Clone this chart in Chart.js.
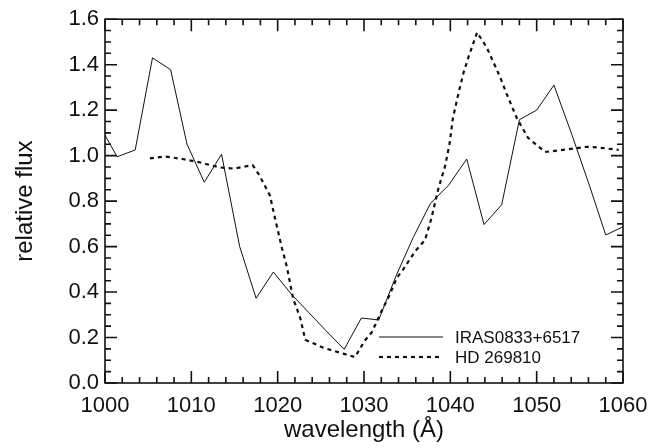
<!DOCTYPE html>
<html>
<head>
<meta charset="utf-8">
<script src="https://cdn.jsdelivr.net/npm/chart.js@4.4.1/dist/chart.umd.min.js"></script>
<style>
  html, body { margin: 0; padding: 0; background: #fff; }
  canvas { display: block; }
</style>
</head>
<body>
<canvas id="chart" width="663" height="448"></canvas>
<script>
// IRAS0833+6517 (solid)
var irasWave = [1000, 1001.4, 1003.5, 1005.5, 1007.6, 1009.5, 1011.5, 1013.5, 1015.6, 1017.5,
                1019.5, 1021.6, 1023.6, 1025.6, 1027.7, 1029.7, 1031.7, 1033.7, 1035.7, 1037.7,
                1039.8, 1041.9, 1043.9, 1045.95, 1048.0, 1050.0, 1052.0, 1054.1, 1056.1, 1058.0, 1060];
var irasFlux = [1.09, 0.995, 1.025, 1.43, 1.378, 1.05, 0.883, 1.006, 0.60, 0.373,
                0.488, 0.39, 0.31, 0.23, 0.148, 0.286, 0.277, 0.47, 0.64, 0.79,
                0.87, 0.985, 0.697, 0.784, 1.158, 1.20, 1.31, 1.09, 0.87, 0.651, 0.687];

// HD 269810 (dashed)
var hdWave = [1005.2, 1007.0, 1009.0, 1011.0, 1013.3, 1014.9, 1017.1, 1017.8, 1019.1, 1019.7,
              1020.5, 1021.05, 1021.8, 1022.6, 1023.2, 1025.3, 1027.6, 1028.96, 1030.1, 1030.9,
              1032.05, 1033.0, 1033.8, 1034.55, 1035.9, 1037.07, 1037.8, 1038.6, 1039.4, 1039.9,
              1040.3, 1040.9, 1041.5, 1042.1, 1043.1, 1044.2, 1045.75, 1046.5, 1047.7, 1049.0,
              1050.97, 1053.5, 1055.8, 1057.3, 1059.5];
var hdFlux = [0.988, 0.996, 0.985, 0.97, 0.948, 0.943, 0.958, 0.919, 0.825, 0.723,
              0.593, 0.513, 0.37, 0.288, 0.19, 0.155, 0.129, 0.114, 0.187, 0.223,
              0.317, 0.39, 0.462, 0.50, 0.578, 0.629, 0.723, 0.853, 0.955, 1.05,
              1.165, 1.267, 1.361, 1.433, 1.542, 1.477, 1.347, 1.274, 1.165, 1.078,
              1.016, 1.027, 1.039, 1.035, 1.025];

var seriesLabels = ['IRAS0833+6517', 'HD 269810'];
var xRange = [1000, 1060];
var yRange = [0, 1.6];

function toPoints(xs, ys) {
    var pts = [];
    for (var i = 0; i < xs.length; i++) pts.push({x: xs[i], y: ys[i]});
    return pts;
}

var sFont = '"Liberation Sans", Arial, Helvetica, sans-serif';
var sInk = '#111';

// box around the plot with inward ticks on all four sides, plus the inset key
var oFramePlugin = {
    id: 'frame',
    afterDatasetsDraw: function (chart) {
        var ctx = chart.ctx, a = chart.chartArea;
        var sx = chart.scales.x, sy = chart.scales.y;
        ctx.save();
        ctx.strokeStyle = sInk;
        ctx.lineWidth = 1.6;
        ctx.strokeRect(a.left, a.top, a.right - a.left, a.bottom - a.top);

        ctx.beginPath();
        for (var i = 0; i <= 30; i++) {
            var px = sx.getPixelForValue(xRange[0] + i * 2);
            var len = i % 5 == 0 ? 12 : 6;
            ctx.moveTo(px, a.bottom); ctx.lineTo(px, a.bottom - len);
            ctx.moveTo(px, a.top); ctx.lineTo(px, a.top + len);
        }
        for (var j = 0; j <= 32; j++) {
            var py = sy.getPixelForValue(j * 0.05);
            var ylen = j % 4 == 0 ? 12 : 6;
            ctx.moveTo(a.left, py); ctx.lineTo(a.left + ylen, py);
            ctx.moveTo(a.right, py); ctx.lineTo(a.right - ylen, py);
        }
        ctx.stroke();

        // key
        var ds = chart.data.datasets;
        ctx.font = '17px ' + sFont;
        ctx.fillStyle = sInk;
        ctx.textBaseline = 'middle';
        for (var k = 0; k < ds.length; k++) {
            var ky = 337 + k * 20;
            ctx.beginPath();
            ctx.lineWidth = ds[k].borderWidth;
            ctx.setLineDash(ds[k].borderDash || []);
            ctx.moveTo(379, ky);
            ctx.lineTo(443, ky);
            ctx.stroke();
            ctx.setLineDash([]);
            ctx.fillText(ds[k].label, 455, ky + 1);
        }
        ctx.restore();
    }
};

var oChart = new Chart(document.getElementById('chart'), {
    type: 'line',
    data: {
        datasets: [{
            label: seriesLabels[0],
            data: toPoints(irasWave, irasFlux),
            borderColor: sInk,
            borderWidth: 1,
            pointRadius: 0,
            tension: 0,
            fill: false
        }, {
            label: seriesLabels[1],
            data: toPoints(hdWave, hdFlux),
            borderColor: sInk,
            borderWidth: 2.2,
            borderDash: [4, 4],
            pointRadius: 0,
            tension: 0,
            fill: false
        }]
    },
    options: {
        responsive: false,
        animation: false,
        layout: {padding: {top: 15, right: 40, left: 0, bottom: 0}},
        plugins: {legend: {display: false}, tooltip: {enabled: false}},
        scales: {
            x: {
                type: 'linear',
                min: xRange[0],
                max: xRange[1],
                grid: {display: false, drawTicks: false},
                border: {display: false},
                ticks: {
                    stepSize: 10, color: sInk, padding: 10, font: {family: sFont, size: 22},
                    callback: function (v) { return String(v); }
                },
                title: {display: true, text: 'wavelength (Å)', color: sInk, padding: {top: 0, bottom: 3}, font: {family: sFont, size: 24}},
                afterFit: function (scale) { scale.height = 65; }
            },
            y: {
                min: yRange[0],
                max: yRange[1],
                grid: {display: false, drawTicks: false},
                border: {display: false},
                ticks: {
                    stepSize: 0.2, color: sInk, padding: 6, font: {family: sFont, size: 22},
                    callback: function (v) { return v.toFixed(1); }
                },
                title: {display: true, text: 'relative flux', color: sInk, padding: {top: 11, bottom: 0}, font: {family: sFont, size: 24}},
                afterFit: function (scale) { scale.width = 105; }
            }
        }
    },
    plugins: [oFramePlugin]
});
</script>
</body>
</html>
